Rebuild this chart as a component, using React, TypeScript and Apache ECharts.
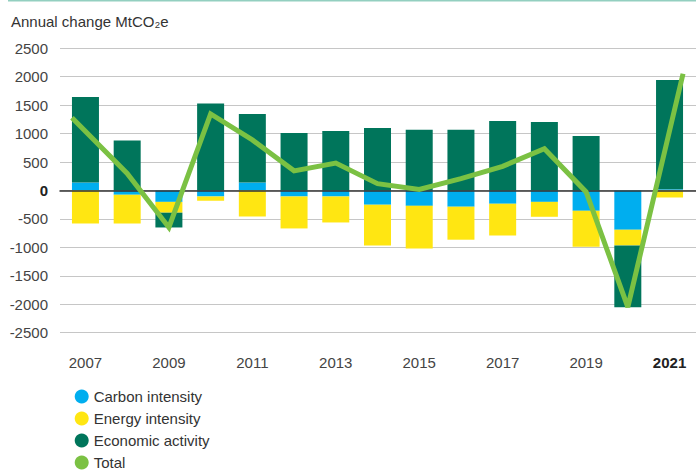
import React, { useEffect, useRef } from "react";
import * as echarts from "echarts";

const years = ["2007","2008","2009","2010","2011","2012","2013","2014","2015","2016","2017","2018","2019","2020","2021"];
const carbonIntensity = [140, -75, -200, -105, 140, -105, -105, -250, -270, -285, -235, -200, -357, -690, 20];
const energyIntensity = [-580, -505, -190, -75, -457, -562, -457, -715, -750, -580, -555, -262, -632, -276, -123];
const economicActivity = [1505, 878, -260, 1528, 1206, 1013, 1048, 1100, 1066, 1066, 1223, 1206, 960, -1088, 1924];
const total = [1040, 300, -650, 1345, 890, 345, 482, 120, 20, 210, 425, 735, -25, -2050, 1050];
const yTicks = [-2500, -2000, -1500, -1000, -500, 0, 500, 1000, 1500, 2000, 2500];
const legendNames = ["Carbon intensity", "Energy intensity", "Economic activity", "Total"];

const FONT = "'Liberation Sans', Arial, sans-serif";
const W = 696;
const H = 471;
const GRID_TOP = 48.3;
const GRID_BOTTOM = 138.3;
const DATA_LEFT = 64.6;
const DATA_RIGHT = 5.6;
const BAR_W = 27;

export default function App() {
  const ref = useRef<HTMLDivElement>(null);
  useEffect(() => {
    if (!ref.current) return;
    const chart = echarts.init(ref.current, null, { renderer: "svg" });
    const bandPx = (W - DATA_LEFT - DATA_RIGHT) / years.length;
    const e = BAR_W / 2 / bandPx;
    const n = total.length;
    const startV = total[0] + (total[0] - total[1]) * e;
    const endV = total[n - 1] + (total[n - 1] - total[n - 2]) * e;
    const lineData: [number, number][] = [[-e, startV]];
    for (let i = 1; i < n - 1; i++) lineData.push([i, total[i]]);
    lineData.push([n - 1 + e, endV]);

    const yMin = yTicks[0];
    const yMax = yTicks[yTicks.length - 1];

    chart.setOption({
      animation: false,
      textStyle: { fontFamily: FONT },
      title: {
        text: "Annual change MtCO\u2082e",
        left: 6,
        top: 9,
        textStyle: { fontSize: 15, fontWeight: "normal", color: "#333", fontFamily: FONT },
      },
      graphic: [
        { type: "rect", shape: { x: 8, y: 0, width: W - 8, height: 1.5 }, style: { fill: "#93cfc0" } },
      ],
      legend: legendNames.map((name, k) => ({
        orient: "vertical",
        left: 74.7,
        top: 389 + 22 * k,
        padding: 0,
        itemWidth: 14,
        itemHeight: 14,
        icon: "circle",
        textStyle: { fontSize: 15, color: "#333", fontFamily: FONT },
        data: [name],
      })),
      grid: [
        { left: 60, right: 0, top: GRID_TOP, bottom: GRID_BOTTOM },
        { left: DATA_LEFT, right: DATA_RIGHT, top: GRID_TOP, bottom: GRID_BOTTOM },
      ],
      xAxis: [
        {
          type: "category",
          gridIndex: 0,
          data: years,
          z: 3,
          axisLine: { show: true, onZero: true, lineStyle: { color: "#333", width: 1.5 } },
          axisTick: { show: false },
          axisLabel: { show: false },
          splitLine: { show: false },
        },
        {
          type: "category",
          gridIndex: 1,
          data: years,
          axisLine: { show: false },
          axisTick: { show: false },
          axisLabel: {
            interval: 1,
            margin: 22,
            fontSize: 15,
            color: "#444",
            fontFamily: FONT,
            formatter: (v: string) => (v === "2021" ? "{b|2021}" : v),
            rich: { b: { fontWeight: "bold", color: "#222", fontSize: 15, fontFamily: FONT } },
          },
          splitLine: { show: false },
        },
        {
          type: "value",
          gridIndex: 1,
          min: -0.5,
          max: years.length - 0.5,
          show: false,
        },
      ],
      yAxis: [
        {
          type: "value",
          gridIndex: 0,
          min: yMin,
          max: yMax,
          interval: 500,
          axisLine: { show: false },
          axisTick: { show: false },
          axisLabel: {
            margin: 12,
            fontSize: 15,
            color: "#444",
            fontFamily: FONT,
            formatter: (v: number) => (v === 0 ? "{b|0}" : String(v)),
            rich: { b: { fontWeight: "bold", color: "#222", fontSize: 15, fontFamily: FONT } },
          },
          splitLine: { show: true, lineStyle: { color: "#c6c6c6", width: 1.2 } },
        },
        {
          type: "value",
          gridIndex: 1,
          min: yMin,
          max: yMax,
          interval: 500,
          show: false,
          splitLine: { show: false },
        },
      ],
      series: [
        {
          name: "Carbon intensity",
          type: "bar",
          xAxisIndex: 1,
          yAxisIndex: 1,
          stack: "s",
          barWidth: BAR_W,
          itemStyle: { color: "#00aeef" },
          data: carbonIntensity,
        },
        {
          name: "Energy intensity",
          type: "bar",
          xAxisIndex: 1,
          yAxisIndex: 1,
          stack: "s",
          barWidth: BAR_W,
          itemStyle: { color: "#ffe612" },
          data: energyIntensity,
        },
        {
          name: "Economic activity",
          type: "bar",
          xAxisIndex: 1,
          yAxisIndex: 1,
          stack: "s",
          barWidth: BAR_W,
          itemStyle: { color: "#00755b" },
          data: economicActivity,
        },
        {
          name: "Total",
          type: "line",
          xAxisIndex: 2,
          yAxisIndex: 1,
          z: 5,
          clip: false,
          symbol: "none",
          itemStyle: { color: "#7bc143" },
          lineStyle: { color: "#7bc143", width: 5, join: "miter", miterLimit: 2.2 },
          data: lineData,
        },
      ],
    });
    return () => chart.dispose();
  }, []);
  return (
    <div
      ref={ref}
      style={{ position: "fixed", left: 0, top: 0, width: W, height: H, background: "#fff" }}
    />
  );
}
